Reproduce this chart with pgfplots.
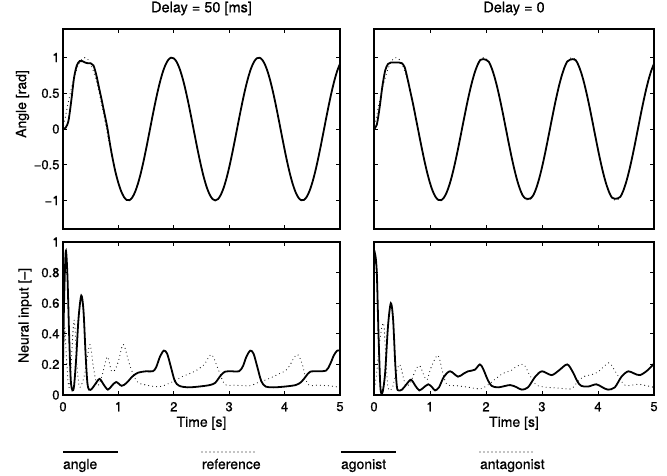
\documentclass[border=0pt]{standalone}
\usepackage{fontspec}
\setmainfont{TeX Gyre Heros}[FakeBold=0.6]
\usepackage{pgfplots}
\usepackage{pgfplotstable}
\pgfplotsset{compat=1.18}

\pgfplotstableread{
t ref a50 a0
0.00 0.0000 0.00 0.00
0.05 0.1987 0.02 0.06
0.10 0.3894 0.12 0.30
0.15 0.5646 0.40 0.60
0.20 0.7174 0.72 0.82
0.25 0.8415 0.89 0.91
0.30 0.9320 0.95 0.93
0.35 0.9854 0.95 0.93
0.40 0.9996 0.93 0.93
0.45 0.9738 0.92 0.93
0.50 0.9093 0.92 0.92
0.55 0.8085 0.89 0.86
0.60 0.6755 0.76 0.70
0.65 0.5155 0.58 0.52
0.70 0.3350 0.40 0.34
0.75 0.1411 0.21 0.14
0.80 -0.0584 0.02 -0.0584
0.85 -0.2555 -0.22 -0.2555
0.90 -0.4425 -0.43 -0.4425
0.95 -0.6119 -0.6119 -0.6119
1.00 -0.7568 -0.7568 -0.7568
1.05 -0.8716 -0.8716 -0.8716
1.10 -0.9516 -0.9516 -0.9516
1.15 -0.9937 -0.9937 -0.9937
1.20 -0.9962 -0.9962 -0.9962
1.25 -0.9589 -0.9589 -0.9589
1.30 -0.8835 -0.8835 -0.8835
1.35 -0.7728 -0.7728 -0.7728
1.40 -0.6313 -0.6313 -0.6313
1.45 -0.4646 -0.4646 -0.4646
1.50 -0.2794 -0.2794 -0.2794
1.55 -0.0831 -0.0831 -0.0831
1.60 0.1165 0.1165 0.1165
1.65 0.3115 0.3115 0.3115
1.70 0.4941 0.4941 0.4941
1.75 0.6570 0.6570 0.6570
1.80 0.7937 0.7937 0.7937
1.85 0.8987 0.8987 0.8987
1.90 0.9679 0.9679 0.9679
1.95 0.9985 0.9985 0.9785
2.00 0.9894 0.9894 0.9694
2.05 0.9407 0.9407 0.9407
2.10 0.8546 0.8546 0.8546
2.15 0.7344 0.7344 0.7344
2.20 0.5849 0.5849 0.5849
2.25 0.4121 0.4121 0.4121
2.30 0.2229 0.2229 0.2229
2.35 0.0248 0.0248 0.0248
2.40 -0.1743 -0.1743 -0.1743
2.45 -0.3665 -0.3665 -0.3665
2.50 -0.5440 -0.5440 -0.5440
2.55 -0.6999 -0.6999 -0.6999
2.60 -0.8278 -0.8278 -0.8278
2.65 -0.9224 -0.9224 -0.9224
2.70 -0.9809 -0.9809 -0.9709
2.75 -1.0000 -1.0000 -0.9800
2.80 -0.9792 -0.9792 -0.9692
2.85 -0.9193 -0.9193 -0.9193
2.90 -0.8228 -0.8228 -0.8228
2.95 -0.6935 -0.6935 -0.6935
3.00 -0.5366 -0.5366 -0.5366
3.05 -0.3582 -0.3582 -0.3582
3.10 -0.1656 -0.1656 -0.1656
3.15 0.0336 0.0336 0.0336
3.20 0.2315 0.2315 0.2315
3.25 0.4202 0.4202 0.4202
3.30 0.5921 0.5921 0.5921
3.35 0.7403 0.7403 0.7403
3.40 0.8592 0.8592 0.8592
3.45 0.9437 0.9437 0.9437
3.50 0.9906 0.9906 0.9706
3.55 0.9980 0.9980 0.9780
3.60 0.9657 0.9657 0.9657
3.65 0.8948 0.8948 0.8948
3.70 0.7885 0.7885 0.7885
3.75 0.6503 0.6503 0.6503
3.80 0.4864 0.4864 0.4864
3.85 0.3031 0.3031 0.3031
3.90 0.1078 0.1078 0.1078
3.95 -0.0919 -0.0919 -0.0919
4.00 -0.2879 -0.2879 -0.2879
4.05 -0.4724 -0.4724 -0.4724
4.10 -0.6381 -0.6381 -0.6381
4.15 -0.7783 -0.7783 -0.7783
4.20 -0.8874 -0.8874 -0.8874
4.25 -0.9614 -0.9614 -0.9614
4.30 -0.9969 -0.9969 -0.9769
4.35 -0.9927 -0.9927 -0.9727
4.40 -0.9488 -0.9488 -0.9488
4.45 -0.8672 -0.8672 -0.8672
4.50 -0.7510 -0.7510 -0.7510
4.55 -0.6055 -0.6055 -0.6055
4.60 -0.4347 -0.4347 -0.4347
4.65 -0.2470 -0.2470 -0.2470
4.70 -0.0495 -0.0495 -0.0495
4.75 0.1499 0.1499 0.1499
4.80 0.3433 0.3433 0.3433
4.85 0.5231 0.5231 0.5231
4.90 0.6820 0.6820 0.6820
4.95 0.8137 0.8137 0.8137
5.00 0.9129 0.9129 0.9129
}\toptab

\pgfplotstableread{
t v
0.00 0.20
0.02 0.62
0.05 0.94
0.08 0.78
0.11 0.40
0.14 0.10
0.17 0.03
0.20 0.06
0.24 0.25
0.28 0.50
0.33 0.65
0.37 0.55
0.41 0.25
0.44 0.08
0.47 0.035
0.52 0.04
0.58 0.07
0.66 0.105
0.73 0.07
0.81 0.035
0.88 0.06
0.96 0.085
1.06 0.06
1.15 0.08
1.25 0.12
1.35 0.145
1.50 0.155
1.62 0.155
1.68 0.18
1.75 0.25
1.82 0.29
1.88 0.27
1.95 0.18
2.02 0.09
2.10 0.06
2.25 0.05
2.45 0.055
2.65 0.065
2.75 0.08
2.83 0.12
2.92 0.152
3.05 0.155
3.18 0.155
3.25 0.19
3.31 0.25
3.38 0.29
3.44 0.27
3.51 0.18
3.58 0.09
3.66 0.055
3.80 0.05
4.00 0.055
4.20 0.065
4.30 0.085
4.38 0.12
4.46 0.152
4.60 0.155
4.75 0.16
4.82 0.20
4.89 0.26
4.95 0.29
5.00 0.29
}\agfifty

\pgfplotstableread{
t v
0.00 0.20
0.03 0.45
0.06 0.25
0.10 0.06
0.13 0.10
0.20 0.49
0.25 0.20
0.30 0.05
0.38 0.12
0.44 0.25
0.49 0.33
0.55 0.18
0.62 0.06
0.70 0.12
0.80 0.25
0.87 0.16
0.93 0.16
1.00 0.22
1.09 0.33
1.20 0.20
1.33 0.09
1.50 0.065
1.75 0.055
2.00 0.09
2.15 0.12
2.38 0.155
2.55 0.20
2.68 0.265
2.80 0.17
2.92 0.07
3.10 0.065
3.37 0.06
3.51 0.08
3.67 0.10
3.88 0.135
4.05 0.17
4.22 0.265
4.32 0.20
4.42 0.07
4.60 0.065
4.80 0.06
5.00 0.05
}\anfifty

\pgfplotstableread{
t v
0.00 0.85
0.02 0.92
0.05 0.80
0.08 0.40
0.11 0.08
0.13 0.01
0.16 0.03
0.20 0.15
0.25 0.45
0.30 0.60
0.34 0.50
0.38 0.20
0.41 0.05
0.44 0.03
0.50 0.035
0.58 0.07
0.66 0.10
0.74 0.06
0.81 0.03
0.89 0.05
0.97 0.07
1.04 0.05
1.09 0.03
1.16 0.05
1.25 0.12
1.36 0.155
1.50 0.12
1.60 0.14
1.68 0.155
1.80 0.165
1.89 0.20
1.95 0.17
2.03 0.10
2.10 0.06
2.22 0.05
2.43 0.065
2.55 0.05
2.64 0.035
2.75 0.05
2.88 0.12
3.00 0.155
3.17 0.13
3.30 0.16
3.45 0.20
3.55 0.15
3.63 0.09
3.70 0.06
3.82 0.055
3.97 0.07
4.08 0.05
4.18 0.035
4.30 0.05
4.42 0.12
4.54 0.155
4.65 0.14
4.75 0.13
4.88 0.16
5.00 0.205
}\agzero

\pgfplotstableread{
t v
0.00 0.02
0.05 0.15
0.10 0.35
0.17 0.47
0.21 0.25
0.25 0.05
0.32 0.04
0.40 0.15
0.46 0.20
0.52 0.12
0.57 0.06
0.65 0.08
0.75 0.17
0.82 0.19
0.90 0.12
0.95 0.10
1.02 0.18
1.14 0.26
1.22 0.16
1.30 0.07
1.50 0.06
1.70 0.05
1.90 0.04
2.05 0.07
2.15 0.10
2.30 0.14
2.45 0.16
2.52 0.18
2.67 0.20
2.78 0.13
2.90 0.065
3.10 0.05
3.30 0.045
3.52 0.04
3.62 0.08
3.74 0.12
3.85 0.13
4.00 0.15
4.19 0.21
4.30 0.16
4.48 0.065
4.73 0.07
5.00 0.05
}\anzero

\pgfplotsset{
  mat/.style={
    scale only axis,
    xmin=0, xmax=5,
    xtick={0,1,2,3,4,5},
    tick align=inside,
    xtick pos=both, ytick pos=both,
    major tick length=4pt,
    axis line style={line width=1.2pt},
    every tick/.style={black, line width=0.9pt},
    /pgf/number format/assume math mode=true,
    tick label style={font=\fontsize{13}{15}\selectfont},
    label style={font=\fontsize{14}{16}\selectfont},
    title style={font=\fontsize{14.5}{16}\selectfont, at={(axis description cs:0.5,1.0535)}, anchor=base},
    xticklabel style={yshift=-3.5pt},
    clip=true,
  },
  topax/.style={mat, width=#1, height=200pt, ymin=-1.4, ymax=1.4,
    ytick={-1,-0.5,0,0.5,1}, xticklabels={}},
  botax/.style={mat, width=#1, height=153pt, ymin=0, ymax=1,
    ytick={0,0.2,0.4,0.6,0.8,1},
    xticklabels={0,1,2,3,4,5},
    xlabel={Time [s]},
    xlabel style={at={(axis description cs:0.5,-0.208)}, anchor=base}},
  solidline/.style={black, line width=1.8pt, smooth, tension=0.5},
  dotline/.style={black, line width=1.1pt, line cap=round, dash pattern=on 0pt off 4pt, smooth, tension=0.5},
}

\begin{document}
\begin{tikzpicture}
\useasboundingbox (0pt,0pt) rectangle (667pt,-476pt);

\begin{axis}[topax=277pt, at={(63pt,-229pt)}, anchor=south west,
  yticklabels={−1,−0.5,0,0.5,1},
  title={Delay = 50 [ms]},
  ylabel={Angle [rad]},
  ylabel style={at={(axis description cs:-0.146,0.625)}, anchor=center}]
\addplot[solidline] table[x=t, y=a50] {\toptab};
\addplot[dotline] table[x=t, y=ref] {\toptab};
\end{axis}

\begin{axis}[topax=280pt, at={(374pt,-229pt)}, anchor=south west,
  yticklabels={},
  title={Delay = 0}]
\addplot[solidline] table[x=t, y=a0] {\toptab};
\addplot[dotline] table[x=t, y=ref] {\toptab};
\end{axis}

\begin{axis}[botax=277pt, at={(63pt,-395pt)}, anchor=south west,
  yticklabels={0,0.2,0.4,0.6,0.8,1},
  ylabel={Neural input [–]},
  ylabel style={at={(axis description cs:-0.137,0.52)}, anchor=center},
  legend columns=4,
  legend image code/.code={\draw[#1,overlay] (0pt,17pt) -- (55pt,17pt);},
  legend style={at={(axis description cs:0,-0.4608)}, anchor=west,
    draw=none, fill=none, inner sep=0pt, outer sep=0pt,
    font=\fontsize{14}{16}\selectfont,
    nodes={inner sep=0pt, text width=139pt, align=left, text height=10pt, text depth=3pt},
    cells={anchor=base west}}]
\addplot[solidline, forget plot] table[x=t, y=v] {\agfifty};
\addplot[dotline, forget plot] table[x=t, y=v] {\anfifty};
\addlegendimage{black, line width=1.8pt}
\addlegendentry{angle}
\addlegendimage{black, line width=1.1pt, line cap=round, dash pattern=on 0pt off 4pt}
\addlegendentry{reference}
\addlegendimage{black, line width=1.8pt}
\addlegendentry{agonist}
\addlegendimage{black, line width=1.1pt, line cap=round, dash pattern=on 0pt off 4pt}
\addlegendentry{antagonist}
\end{axis}

\begin{axis}[botax=280pt, at={(374pt,-395pt)}, anchor=south west,
  yticklabels={}]
\addplot[solidline] table[x=t, y=v] {\agzero};
\addplot[dotline] table[x=t, y=v] {\anzero};
\end{axis}
\end{tikzpicture}
\end{document}
